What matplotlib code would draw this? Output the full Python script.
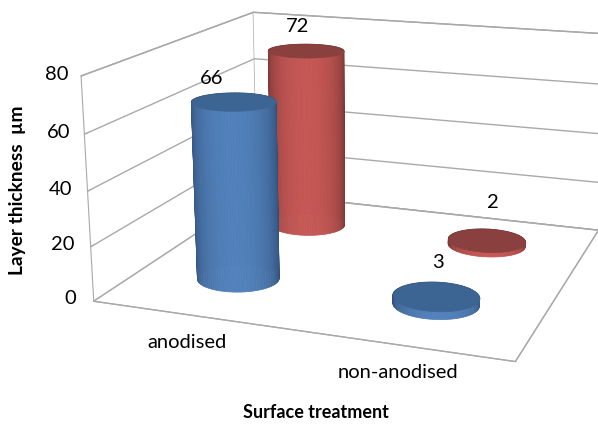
import numpy as np
import matplotlib
matplotlib.use("Agg")
import matplotlib.pyplot as plt
from matplotlib.colors import to_rgb
from mpl_toolkits.mplot3d.art3d import Poly3DCollection

plt.rcParams["font.family"] = ["Lato", "DejaVu Sans"]

categories = ["anodised", "non-anodised"]
anodised_series = [66, 3]
second_series = [72, 2]
z_ticks = [0, 20, 40, 60, 80]

W, H = 598, 424
GRID = "#a9a9ab"
AZIM = -70


def cylinder(ax, x0, y0, r, height, side, dark, top, zorder):
    theta = np.linspace(0, 2 * np.pi, 97)
    z = np.array([0, height])
    tt, zz = np.meshgrid(theta, z)
    xx = x0 + r * np.cos(tt)
    yy = y0 + r * np.sin(tt)
    # light falls off towards the silhouette
    mid = (theta[:-1] + theta[1:]) / 2
    k = np.clip(np.cos(mid - np.radians(AZIM)), 0, 1) ** 0.9
    side, dark = np.array(to_rgb(side)), np.array(to_rgb(dark))
    cols = np.array([dark + (side - dark) * v for v in k])[None, :, :]
    ax.plot_surface(xx, yy, zz, facecolors=cols, shade=False, rstride=1, cstride=1,
                    linewidth=0.5, zorder=zorder)
    cap = list(zip(xx[0], yy[0], np.full(theta.shape, height)))
    ax.add_collection3d(Poly3DCollection([cap], facecolor=top, edgecolor=top, linewidth=0.5, zorder=zorder + 0.5))


fig = plt.figure(figsize=(W / 100, H / 100), dpi=100)
ax = fig.add_axes([0.1, 0.108, 1.0, 1.0], projection="3d")
ax.computed_zorder = False
ax.set_proj_type("persp", focal_length=0.6)
ax.view_init(elev=15.5, azim=AZIM)
ax.set_box_aspect((4.85, 4.45, 2.58), zoom=1.365)

ax.set_xlim(0, 2)
ax.set_ylim(0, 2)
ax.set_zlim(0, 80)
ax.set_xticks([])
ax.set_yticks([])
ax.set_zticks(z_ticks)
ax.set_zticklabels([])
ax.tick_params(axis="z", color=GRID)
ax.zaxis.set_ticks_position("lower")
for axis in (ax.xaxis, ax.yaxis, ax.zaxis):
    axis.set_pane_color((1, 1, 1, 1))
    axis.pane.set_edgecolor(GRID)
    axis.line.set_color(GRID)
    axis._axinfo["grid"].update(color=GRID, linewidth=1.0)
    axis._axinfo["tick"].update(color=GRID, inward_factor=0.0, outward_factor=0.15)

for v in z_ticks:
    ax.text(-0.065 - 0.03 * (1 - v / 80), 0, v, str(v), ha="right", va="center", fontsize=14.5)

radius = 0.2
for i, v in enumerate(second_series):
    cylinder(ax, 0.5 + i, 1.52, radius, v, "#c65855", "#6f3231", "#8a403e", 5 + i)
for i, v in enumerate(anodised_series):
    cylinder(ax, 0.5 + i, 0.55, radius, v, "#5281bb", "#2f4d74", "#3d6593", 8 + i)

value_pos = [(212, 78), (438, 262), (298, 27), (493, 203)]
for v, p in zip(anodised_series + second_series, value_pos):
    fig.text(p[0] / W, 1 - p[1] / H, str(v), ha="center", va="center", fontsize=14.5)

fig.text(187 / W, 1 - 342 / H, categories[0], ha="center", va="center", fontsize=14.5)
fig.text(398 / W, 1 - 373 / H, categories[1], ha="center", va="center", fontsize=14.5)
fig.text(316 / W, 1 - 413 / H, "Surface treatment", ha="center", va="center", fontsize=13, fontweight="bold")
fig.text(18 / W, 1 - 190 / H, "Layer thickness  µm", ha="center", va="center", rotation=90, fontsize=13.8, fontweight="bold")

fig.savefig("out.png", dpi=100)
